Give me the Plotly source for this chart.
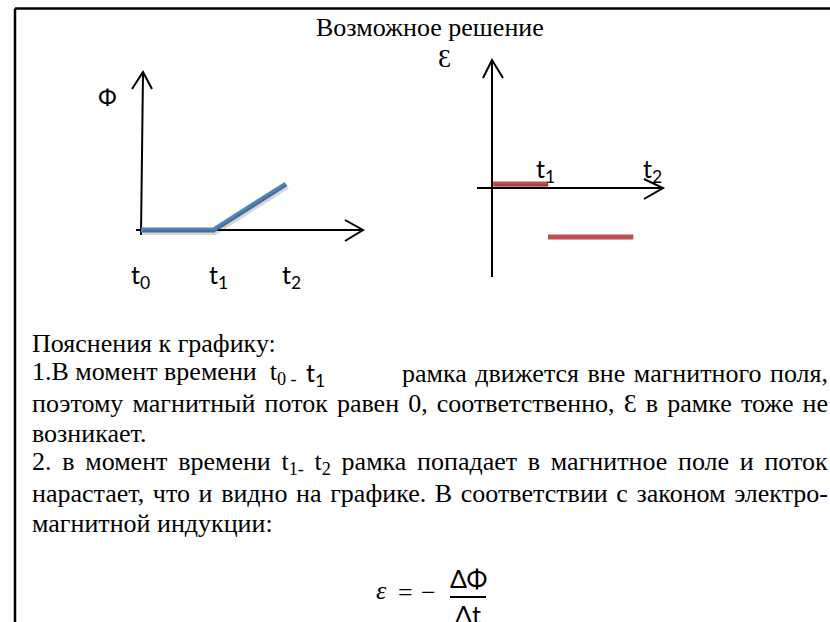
import plotly.graph_objects as go

W, H = 830, 622

# ---- data ----
phi_t = [0, 1, 2]              # t0, t1, t2
phi_v = [0, 0, 1]              # flux: zero, then growing
eps_t_a = [0, 1]               # t0 .. t1
eps_v_a = [0.08, 0.08]         # EMF ~ 0
eps_t_b = [1, 2.55]            # t1 .. t2
eps_v_b = [-1, -1]             # EMF negative constant
t_labels = ["t<sub>0</sub>", "t<sub>1</sub>", "t<sub>2</sub>"]

SERIF = "Liberation Serif, Times New Roman, DejaVu Serif, serif"
SANS = "Lato, Carlito, Calibri, Noto Sans, sans-serif"
BLUE = "#4F81BD"
RED = "#C0504D"
SHADOW = "rgba(0,0,0,0.16)"

fig = go.Figure()

fig.update_layout(
    width=W, height=H, margin=dict(l=0, r=0, t=0, b=0),
    paper_bgcolor="white", plot_bgcolor="rgba(0,0,0,0)",
    showlegend=False,
    xaxis=dict(range=[0, W], domain=[0, 1], visible=False, fixedrange=True),
    yaxis=dict(range=[H, 0], domain=[0, 1], visible=False, fixedrange=True),
)

def data_axes(xn, yn, x0, ux, xr, y0, uy, yr, dx=0, dy=0):
    fig.update_layout(**{
        f"xaxis{xn}": dict(range=xr,
                           domain=[(x0 + dx + xr[0]*ux)/W, (x0 + dx + xr[1]*ux)/W],
                           visible=False, anchor=f"y{yn}", fixedrange=True),
        f"yaxis{yn}": dict(range=yr,
                           domain=[1-(y0 + dy - yr[0]*uy)/H, 1-(y0 + dy - yr[1]*uy)/H],
                           visible=False, anchor=f"x{xn}", fixedrange=True),
    })

# left graph: t=0 -> px 141, 72.5 px/unit ; phi=0 -> py 230, 46 px/unit
L_GEOM = (141, 72.5, [-0.5, 2.5], 230, 46, [-0.5, 1.5])
# right graph: t=0 -> px 493, 55 px/unit ; eps=0 -> py 188, 49 px/unit
R_GEOM = (493, 55, [-0.5, 3.0], 188, 49, [-1.5, 0.5])
data_axes(2, 2, *L_GEOM)
data_axes(3, 3, *R_GEOM)
data_axes(4, 4, *L_GEOM, dx=1.5, dy=2.5)   # shadow copies
data_axes(5, 5, *R_GEOM, dx=1.5, dy=2.5)

shapes = []
def line(x0, y0, x1, y1, w=2, c="black"):
    shapes.append(dict(type="line", xref="x", yref="y", x0=x0, y0=y0, x1=x1, y1=y1,
                       line=dict(color=c, width=w), layer="below"))

def chevron(p1, tip, p2, w=2):
    shapes.append(dict(type="path", xref="x", yref="y",
                       path=f"M{p1[0]},{p1[1]} L{tip[0]},{tip[1]} L{p2[0]},{p2[1]}",
                       line=dict(color="black", width=w), layer="below"))

# frame (top and left)
line(15, 8.5, W, 8.5, w=2.5)
line(15, 8.5, 15, H, w=2.5)

# left graph axes
line(141, 235, 143, 73)
chevron((132, 89), (143, 72), (152, 89))
line(136, 230, 362, 230)
chevron((345, 220), (363, 230), (345, 241))

# right graph axes
line(492, 277, 492, 61)
chevron((483, 78), (492, 60), (503, 78))
line(477, 188, 662, 188)
chevron((644, 179), (663, 188), (644, 199))

# formula fraction bar
line(450, 597, 486, 597, w=2)

fig.update_layout(shapes=shapes)

# shadows
fig.add_trace(go.Scatter(x=phi_t, y=phi_v, xaxis="x4", yaxis="y4", mode="lines",
                         line=dict(color=SHADOW, width=5), hoverinfo="skip"))
fig.add_trace(go.Scatter(x=eps_t_a, y=eps_v_a, xaxis="x5", yaxis="y5", mode="lines",
                         line=dict(color=SHADOW, width=5), hoverinfo="skip"))
# data traces
fig.add_trace(go.Scatter(x=phi_t, y=phi_v, xaxis="x2", yaxis="y2", mode="lines",
                         line=dict(color=BLUE, width=5), hoverinfo="skip"))
fig.add_trace(go.Scatter(x=eps_t_a, y=eps_v_a, xaxis="x3", yaxis="y3", mode="lines",
                         line=dict(color=RED, width=5), hoverinfo="skip"))
fig.add_trace(go.Scatter(x=eps_t_b, y=eps_v_b, xaxis="x3", yaxis="y3", mode="lines",
                         line=dict(color=RED, width=5), hoverinfo="skip"))

ann = []
def text(x, y, s, size=26, family=SERIF, xanchor="left"):
    ann.append(dict(x=x, y=y, xref="x", yref="y", text=s, showarrow=False,
                    xanchor=xanchor, yanchor="middle",
                    align={"left": "left", "right": "right"}.get(xanchor, "center"),
                    font=dict(family=family, size=size, color="black")))

# title
text(430, 27, "Возможное решение", size=26, xanchor="center")

# left graph labels
text(107, 96, "Ф", size=24, family=SANS, xanchor="center")
for tx, lab in zip([140, 218, 291], t_labels):
    text(tx, 276, lab, size=25, family=SANS, xanchor="center")

# right graph labels
text(444, 58, "Ɛ", size=26, family=SERIF, xanchor="center")
text(545, 170, t_labels[1], size=25, family=SANS, xanchor="center")
text(652, 170, t_labels[2], size=25, family=SANS, xanchor="center")

# explanation text
L = 30
R = 828
ys = [343, 373, 403, 433, 463, 493, 523]
text(L, ys[0], "Пояснения к графику:")
text(L, ys[1], "1.В момент времени  t<sub>0 -</sub>")
text(304, ys[1] + 1, "t<sub>1</sub>", size=25, family=SANS)
text(R, ys[1], "рамка движется вне магнитного поля,", xanchor="right")
text(L, ys[2], "поэтому магнитный поток равен 0, соответственно, Ɛ в рамке тоже не")
text(L, ys[3], "возникает.")
text(L, ys[4], "2. в момент времени t<sub>1-</sub> t<sub>2</sub> рамка попадает в магнитное поле и поток")
text(L, ys[5], "нарастает, что и видно на графике. В соответствии с законом электро-")
text(L, ys[6], "магнитной индукции:")

# formula
text(381, 590, "<i>ε</i>", size=26, family=SERIF, xanchor="center")
text(405, 592, "=", size=26, family=SERIF, xanchor="center")
text(428, 592, "−", size=26, family=SERIF, xanchor="center")
text(468, 578, "ΔΦ", size=25, family=SANS, xanchor="center")
text(468, 614, "Δt", size=25, family=SANS, xanchor="center")

fig.update_layout(annotations=ann)

# page margin off + justify the full-width paragraph lines (word spacing)
post = """
document.body.style.margin = '0';
document.body.style.overflow = 'hidden';
var jobs = [['поэтому', null, %d], ['2. в момент', null, %d],
            ['нарастает', null, %d], ['рамка движется', 402, %d]];
document.querySelectorAll('text.annotation-text').forEach(function (t) {
  var s = t.textContent;
  jobs.forEach(function (j) {
    if (s.indexOf(j[0]) !== 0) return;
    var r = t.getBoundingClientRect();
    var left = (j[1] === null) ? r.left : j[1];
    var n = (s.match(/ /g) || []).length;
    if (!n) return;
    var ws = ((j[2] - left) - r.width) / n;
    t.setAttribute('word-spacing', ws);
    t.style.wordSpacing = ws + 'px';
    var r2 = t.getBoundingClientRect();
    var shift = left - r2.left;
    if (Math.abs(shift) > 0.3) {
      t.setAttribute('transform', 'translate(' + shift + ',0)');
    }
  });
});
""" % (R, R, R, R)

fig.write_html("out.html", post_script=post, config={"displayModeBar": False, "staticPlot": True})
